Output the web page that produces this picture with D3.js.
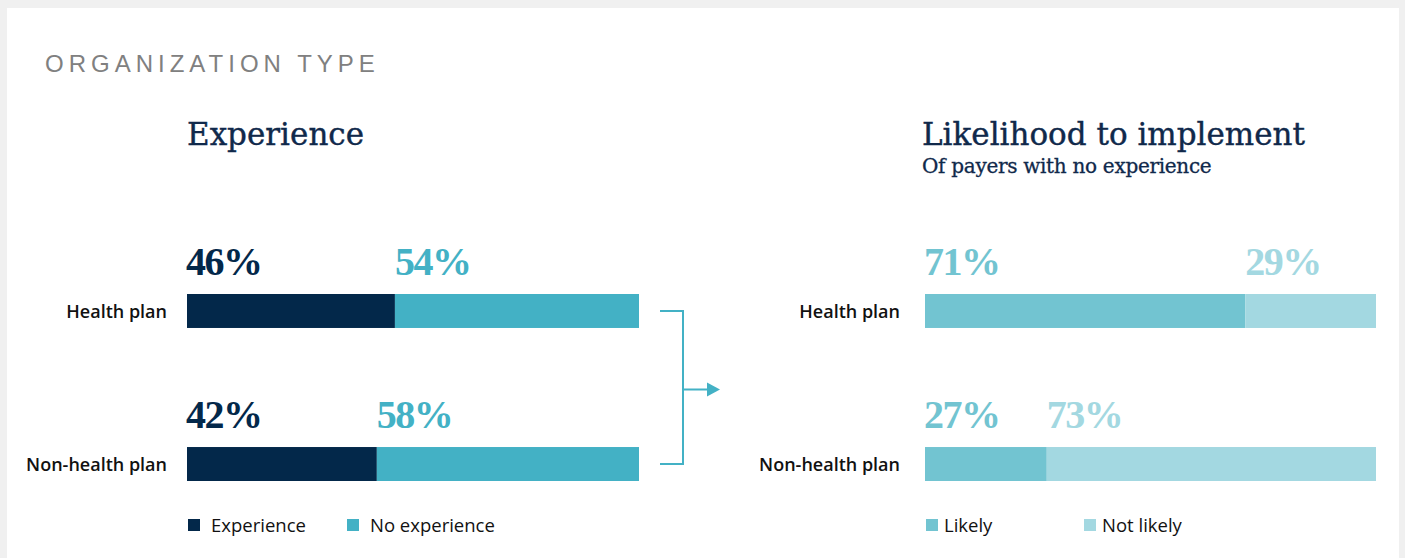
<!DOCTYPE html>
<html>
<head>
<meta charset="utf-8">
<script src="https://cdn.jsdelivr.net/npm/d3@7"></script>
<style>
  html, body { margin: 0; padding: 0; background: #f0f0f0; }
  svg { display: block; }
</style>
</head>
<body>
<div id="chart"></div>
<script>
const WIDTH = 1405;
const HEIGHT = 558;

// data
const categories = ['Health plan', 'Non-health plan'];
const experience = [46, 42];
const noExperience = [54, 58];
const likely = [71, 27];
const notLikely = [29, 73];

const leftKeys = ['Experience', 'No experience'];
const rightKeys = ['Likely', 'Not likely'];

const NAVY = '#03284a';
const TEAL = '#43b1c5';
const LIKELY = '#72c4d1';
const NOT_LIKELY = '#a3d8e1';
const TITLE = '#10294b';

const SERIF = '"DejaVu Serif", "Liberation Serif", serif';
const SANS = '"Open Sans", "Noto Sans", sans-serif';

const svg = d3.select('#chart').append('svg')
  .attr('width', WIDTH)
  .attr('height', HEIGHT);

// white card
svg.append('rect')
  .attr('x', 7).attr('y', 8)
  .attr('width', 1392).attr('height', HEIGHT)
  .attr('fill', '#fff');

svg.append('text')
  .attr('x', 45).attr('y', 72)
  .attr('fill', '#808080')
  .attr('font-family', '"Liberation Sans", Arial, sans-serif')
  .attr('font-size', 24)
  .attr('letter-spacing', 5)
  .text('ORGANIZATION TYPE');

const y = d3.scaleBand().domain(categories).range([294, 481]).paddingInner(0.778);

function panel(opts) {
  const x = d3.scaleLinear().domain([0, 100]).range(opts.range);
  const g = svg.append('g');

  g.append('text')
    .attr('x', opts.titleX).attr('y', 145)
    .attr('fill', TITLE)
    .attr('stroke', TITLE)
    .attr('stroke-width', 0.4)
    .attr('font-family', SERIF)
    .attr('font-size', 31)
    .text(opts.title);

  if (opts.subtitle) {
    g.append('text')
      .attr('x', opts.titleX).attr('y', 173)
      .attr('fill', TITLE)
      .attr('stroke', TITLE)
      .attr('stroke-width', 0.3)
      .attr('font-family', SERIF)
      .attr('font-size', 20)
      .attr('letter-spacing', -0.3)
      .text(opts.subtitle);
  }

  const rows = categories.map((c, i) => ({ cat: c, a: opts.a[i], b: opts.b[i] }));

  const row = g.selectAll('g.row').data(rows).enter().append('g').attr('class', 'row');

  row.append('rect')
    .attr('x', x(0))
    .attr('y', (d) => y(d.cat))
    .attr('width', (d) => x(d.a) - x(0))
    .attr('height', y.bandwidth())
    .attr('fill', opts.colors[0]);

  row.append('rect')
    .attr('x', (d) => x(d.a))
    .attr('y', (d) => y(d.cat))
    .attr('width', (d) => x(d.a + d.b) - x(d.a))
    .attr('height', y.bandwidth())
    .attr('fill', opts.colors[1]);

  row.append('text')
    .attr('x', opts.labelX)
    .attr('y', (d) => y(d.cat) + y.bandwidth() / 2 + 7)
    .attr('text-anchor', 'end')
    .attr('fill', '#111')
    .attr('font-family', SANS)
    .attr('font-weight', 600)
    .attr('font-size', 18)
    .text((d) => d.cat);

  // value labels above the bar
  const valueLabel = (sel) => sel
    .attr('y', (d) => y(d.cat) - 19)
    .attr('font-family', '"Liberation Serif", serif')
    .attr('font-weight', 700)
    .attr('font-size', 40)
    .attr('letter-spacing', -1.5);

  row.append('text')
    .call(valueLabel)
    .attr('x', x(0) - 1)
    .attr('fill', opts.colors[0])
    .text((d) => d.a + '%');

  row.append('text')
    .call(valueLabel)
    .attr('x', (d) => x(d.a))
    .attr('fill', opts.colors[1])
    .text((d) => d.b + '%');

  // legend
  const leg = g.selectAll('g.leg').data(opts.keys).enter().append('g')
    .attr('class', 'leg')
    .attr('transform', (d, i) => `translate(${opts.legendX[i]},519)`);
  leg.append('rect')
    .attr('width', 12).attr('height', 12)
    .attr('fill', (d, i) => opts.colors[i]);
  leg.append('text')
    .attr('x', opts.legendGap).attr('y', 13)
    .attr('fill', '#111')
    .attr('font-family', SANS)
    .attr('font-size', 18.5)
    .text((d) => d);

  return { x };
}

const left = panel({
  title: 'Experience', titleX: 187,
  range: [187, 639], labelX: 167,
  a: experience, b: noExperience,
  colors: [NAVY, TEAL], keys: leftKeys,
  legendX: [188, 347], legendGap: 23
});

panel({
  title: 'Likelihood to implement', subtitle: 'Of payers with no experience', titleX: 922,
  range: [925, 1376], labelX: 900,
  a: likely, b: notLikely,
  colors: [LIKELY, NOT_LIKELY], keys: rightKeys,
  legendX: [926, 1084], legendGap: 18
});

// bracket + arrow linking the two panels
const y0 = y(categories[0]) + y.bandwidth() / 2;
const y1 = y(categories[1]) + y.bandwidth() / 2;
const bx0 = left.x(100) + 21;
const bx1 = bx0 + 23;
const ym = (y0 + y1) / 2 + 2;

svg.append('path')
  .attr('d', `M${bx0},${y0}H${bx1}V${y1}H${bx0}M${bx1},${ym}H${bx1 + 25}`)
  .attr('fill', 'none')
  .attr('stroke', TEAL)
  .attr('stroke-width', 2);

svg.append('path')
  .attr('d', `M${bx1 + 24},${ym - 7}L${bx1 + 37},${ym}L${bx1 + 24},${ym + 7}Z`)
  .attr('fill', TEAL);
</script>
</body>
</html>
